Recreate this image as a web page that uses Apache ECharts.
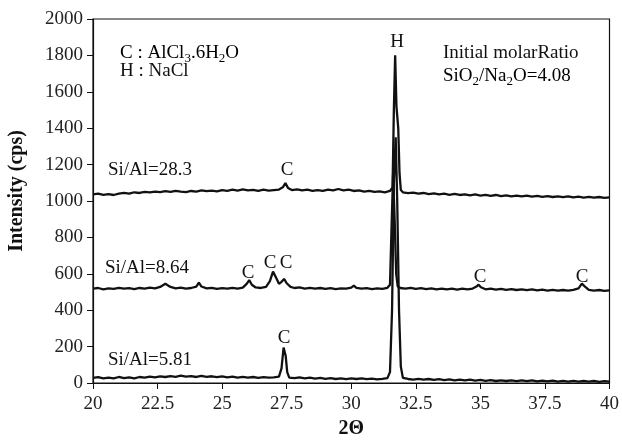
<!DOCTYPE html>
<html>
<head>
<meta charset="utf-8">
<script src="https://cdn.jsdelivr.net/npm/echarts@6/dist/echarts.min.js"></script>
<style>
html,body{margin:0;padding:0;background:#fff;}
#chart{width:622px;height:444px;}
</style>
</head>
<body>
<div id="chart"></div>
<script>
// 2θ / intensity pairs
var siAl283 = [
  [20.0,1036],[20.2,1040],[20.4,1034],[20.6,1038],[20.8,1033],[21.0,1040],[21.2,1045],[21.4,1040],[21.6,1048],[21.8,1044],
  [22.0,1050],[22.2,1047],[22.4,1052],[22.6,1049],[22.8,1054],[23.0,1050],[23.2,1056],[23.4,1052],[23.6,1049],[23.8,1055],
  [24.0,1052],[24.2,1058],[24.4,1054],[24.6,1057],[24.8,1053],[25.0,1060],[25.2,1056],[25.4,1062],[25.6,1057],[25.8,1064],
  [26.0,1058],[26.2,1061],[26.4,1055],[26.6,1062],[26.8,1057],[27.0,1060],[27.2,1063],[27.35,1075],[27.45,1098],[27.55,1072],
  [27.7,1060],[27.9,1064],[28.1,1058],[28.3,1062],[28.5,1055],[28.7,1060],[28.9,1056],[29.1,1063],[29.3,1058],[29.5,1066],
  [29.7,1058],[29.9,1062],[30.1,1055],[30.3,1058],[30.5,1052],[30.7,1056],[30.9,1050],[31.1,1053],[31.3,1048],[31.5,1055],
  [31.6,1075],[31.65,1500],[31.7,1800],[31.75,1520],[31.82,1400],[31.87,1150],[31.92,1060],[32.0,1048],[32.2,1043],[32.4,1046],
  [32.6,1040],[32.8,1044],[33.0,1038],[33.2,1042],[33.4,1036],[33.6,1040],[33.8,1034],[34.0,1039],[34.2,1033],[34.4,1037],
  [34.6,1031],[34.8,1036],[35.0,1030],[35.2,1034],[35.4,1028],[35.6,1033],[35.8,1027],[36.0,1031],[36.2,1026],[36.4,1030],
  [36.6,1025],[36.8,1029],[37.0,1024],[37.2,1028],[37.4,1023],[37.6,1027],[37.8,1022],[38.0,1026],[38.2,1021],[38.4,1025],
  [38.6,1020],[38.8,1024],[39.0,1019],[39.2,1023],[39.4,1018],[39.6,1022],[39.8,1017],[40.0,1020]
];
var siAl864 = [
  [20.0,518],[20.2,522],[20.4,515],[20.6,520],[20.8,517],[21.0,523],[21.2,518],[21.4,521],[21.6,516],[21.8,522],
  [22.0,519],[22.2,524],[22.4,520],[22.6,528],[22.8,545],[23.0,528],[23.2,520],[23.4,524],[23.6,518],[23.8,522],
  [24.0,530],[24.1,552],[24.2,530],[24.4,520],[24.6,523],[24.8,517],[25.0,521],[25.2,518],[25.4,523],[25.6,519],
  [25.8,524],[25.95,545],[26.05,565],[26.15,540],[26.3,525],[26.5,522],[26.7,528],[26.85,560],[26.97,612],[27.1,575],
  [27.2,545],[27.3,556],[27.4,572],[27.5,548],[27.65,528],[27.8,522],[28.0,525],[28.2,519],[28.4,523],[28.6,518],
  [28.8,522],[29.0,517],[29.2,521],[29.4,516],[29.6,520],[29.8,518],[30.0,524],[30.1,535],[30.2,523],[30.4,518],
  [30.6,521],[30.8,516],[31.0,520],[31.2,517],[31.4,523],[31.5,540],[31.55,800],[31.62,1150],[31.68,900],[31.74,600],
  [31.8,530],[31.9,522],[32.1,518],[32.3,523],[32.5,517],[32.7,521],[32.9,516],[33.1,520],[33.3,515],[33.5,519],
  [33.7,514],[33.9,518],[34.1,513],[34.3,518],[34.5,514],[34.7,519],[34.85,530],[34.93,540],[35.02,526],[35.2,515],
  [35.4,519],[35.6,513],[35.8,517],[36.0,512],[36.2,516],[36.4,511],[36.6,515],[36.8,510],[37.0,514],[37.2,509],
  [37.4,513],[37.6,508],[37.8,512],[38.0,507],[38.2,511],[38.4,507],[38.6,512],[38.8,520],[38.93,546],[39.05,530],
  [39.2,512],[39.4,508],[39.6,511],[39.8,506],[40.0,509]
];
var siAl581 = [
  [20.0,28],[20.2,32],[20.4,25],[20.6,30],[20.8,26],[21.0,33],[21.2,27],[21.4,31],[21.6,25],[21.8,33],
  [22.0,29],[22.2,35],[22.4,31],[22.6,37],[22.8,33],[23.0,38],[23.2,34],[23.4,40],[23.6,35],[23.8,38],
  [24.0,33],[24.2,39],[24.4,34],[24.6,37],[24.8,32],[25.0,36],[25.2,31],[25.4,35],[25.6,30],[25.8,34],
  [26.0,29],[26.2,33],[26.4,28],[26.6,32],[26.8,29],[27.0,31],[27.2,35],[27.3,80],[27.38,195],[27.46,150],
  [27.52,60],[27.6,30],[27.8,27],[28.0,31],[28.2,25],[28.4,29],[28.6,24],[28.8,28],[29.0,23],[29.2,27],
  [29.4,22],[29.6,26],[29.8,21],[30.0,25],[30.2,22],[30.4,26],[30.6,21],[30.8,24],[31.0,20],[31.2,23],
  [31.4,27],[31.5,60],[31.58,400],[31.65,1100],[31.72,1350],[31.78,1000],[31.85,400],[31.92,90],[32.0,28],[32.2,22],
  [32.4,19],[32.6,23],[32.8,18],[33.0,22],[33.2,17],[33.4,21],[33.6,16],[33.8,20],[34.0,15],[34.2,19],
  [34.4,14],[34.6,18],[34.8,13],[35.0,17],[35.2,12],[35.4,16],[35.6,11],[35.8,15],[36.0,11],[36.2,15],
  [36.4,10],[36.6,14],[36.8,10],[37.0,14],[37.2,9],[37.4,13],[37.6,9],[37.8,13],[38.0,8],[38.2,12],
  [38.4,8],[38.6,12],[38.8,7],[39.0,11],[39.2,7],[39.4,11],[39.6,6],[39.8,10],[40.0,8]
];

var serif = '"Liberation Serif","Times New Roman",serif';
var ink = '#111';

var chart = echarts.init(document.getElementById('chart'));

function txt(x, y, s, align) {
  return {type: 'text', z: 10,
          style: {text: s, x: x, y: y, font: '19px ' + serif, fill: ink,
                  align: align || 'left', verticalAlign: 'middle'}};
}
var subRich = {
  n: {fontSize: 19, fontFamily: serif, color: ink, lineHeight: 24},
  s: {fontSize: 13, fontFamily: serif, color: ink, lineHeight: 13, verticalAlign: 'bottom'}
};

function line(name, d) {
  return {name: name, type: 'line', data: d, showSymbol: false, symbol: 'none',
          lineStyle: {color: ink, width: 2.3}, itemStyle: {color: ink}};
}

var option = {
  animation: false,
  backgroundColor: '#fff',
  grid: {left: 93, right: 11, top: 19, bottom: 56, show: true, borderColor: ink, borderWidth: 1.2},
  xAxis: {
    type: 'value', min: 20, max: 40, interval: 2.5,
    name: '2Θ', nameLocation: 'middle', nameGap: 36,
    nameTextStyle: {fontFamily: serif, fontSize: 20, fontWeight: 'bold', color: ink},
    axisLine: {lineStyle: {color: ink, width: 1.2}},
    axisTick: {length: 6, lineStyle: {color: ink}},
    axisLabel: {fontFamily: serif, fontSize: 19, color: '#222', margin: 12},
    splitLine: {show: false}
  },
  yAxis: {
    type: 'value', min: 0, max: 2000, interval: 200,
    axisLine: {show: true, lineStyle: {color: ink, width: 1.2}},
    axisTick: {show: true, length: 6, lineStyle: {color: ink}},
    axisLabel: {fontFamily: serif, fontSize: 19, color: '#222', margin: 10,
                formatter: function (v) { return String(v); }},
    splitLine: {show: false}
  },
  series: [line('Si/Al=28.3', siAl283), line('Si/Al=8.64', siAl864), line('Si/Al=5.81', siAl581)],
  graphic: [
    {type: 'text', x: 17, y: 191, rotation: Math.PI / 2,
     style: {text: 'Intensity (cps)', font: 'bold 20px ' + serif, fill: ink, align: 'center', verticalAlign: 'middle'}},
    {type: 'text', x: 120, y: 53, style: {text: '{n|C : AlCl}{s|3}{n|.6H}{s|2}{n|O}', rich: subRich, verticalAlign: 'middle'}},
    txt(120, 71, 'H : NaCl'),
    txt(443, 53, 'Initial molarRatio'),
    {type: 'text', x: 443, y: 76, style: {text: '{n|SiO}{s|2}{n|/Na}{s|2}{n|O=4.08}', rich: subRich, verticalAlign: 'middle'}},
    txt(397, 42, 'H', 'center'),
    txt(108, 170, 'Si/Al=28.3'),
    txt(287, 170, 'C', 'center'),
    txt(105, 268, 'Si/Al=8.64'),
    txt(248, 273, 'C', 'center'),
    txt(270, 263, 'C', 'center'),
    txt(286, 263, 'C', 'center'),
    txt(480, 277, 'C', 'center'),
    txt(582, 277, 'C', 'center'),
    txt(108, 360, 'Si/Al=5.81'),
    txt(284, 338, 'C', 'center')
  ]
};
chart.setOption(option);
</script>
</body>
</html>
